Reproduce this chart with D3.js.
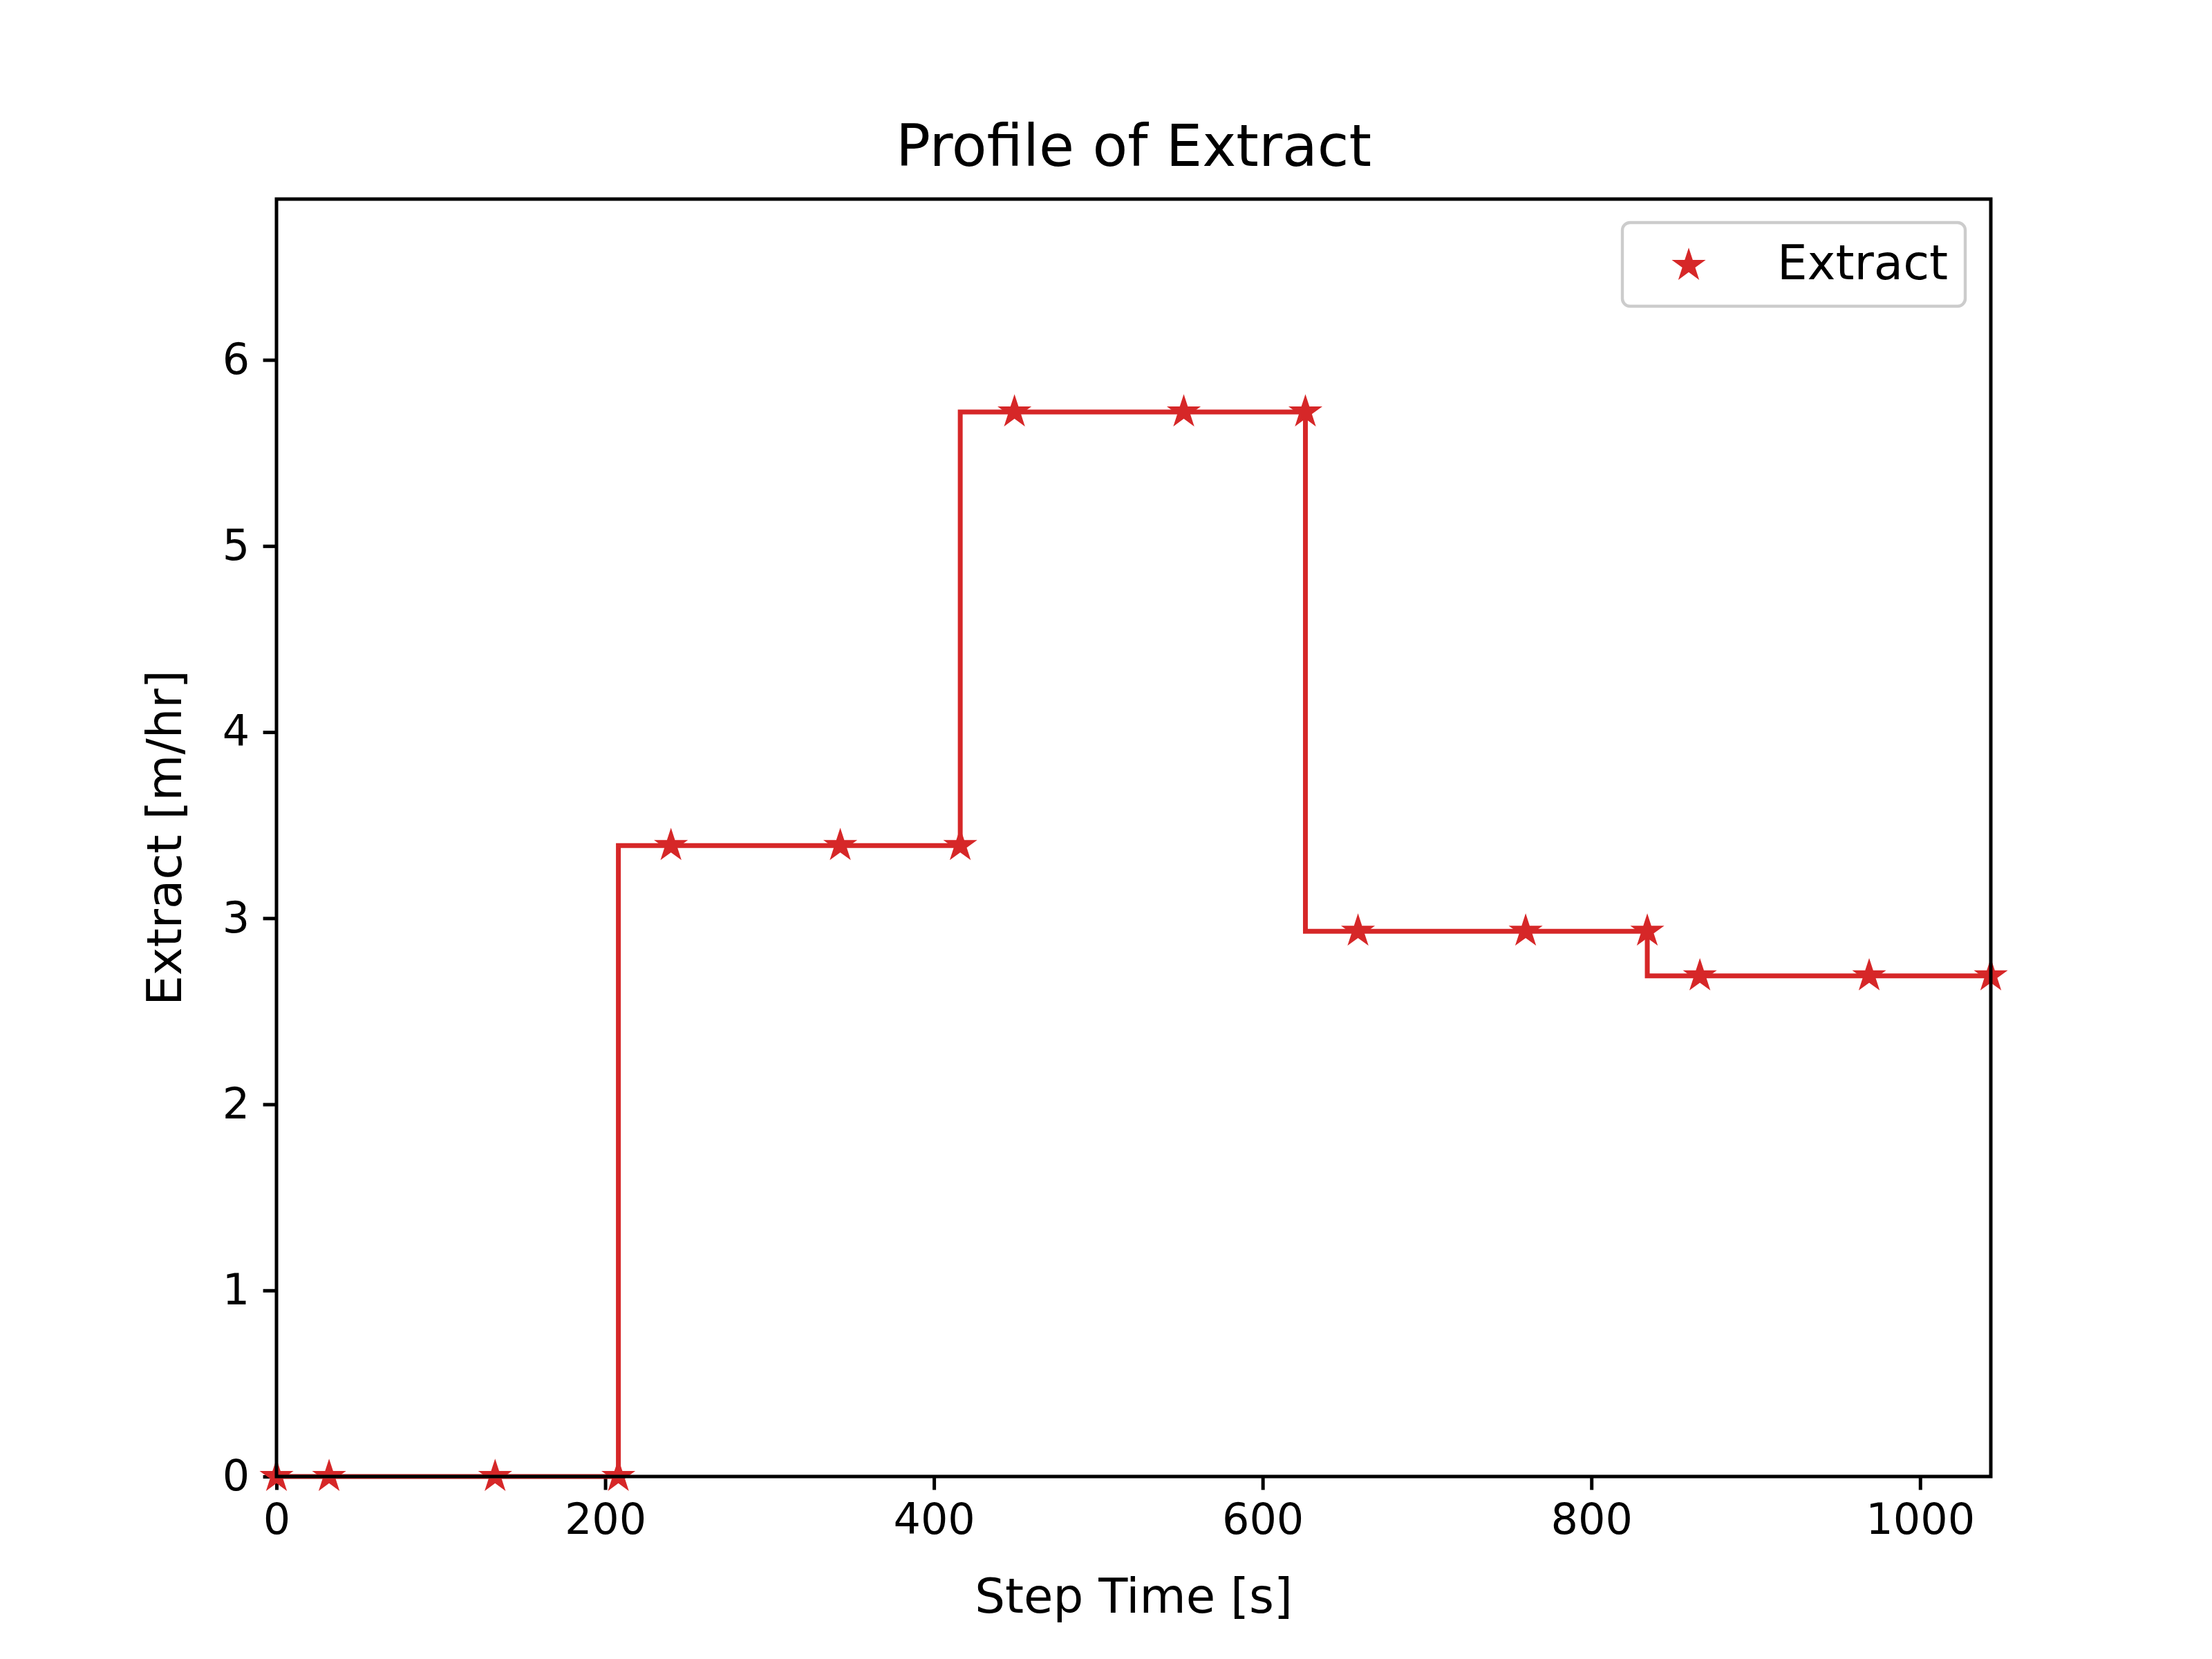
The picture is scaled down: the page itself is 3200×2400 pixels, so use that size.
<!DOCTYPE html>
<html>
<head>
<meta charset="utf-8">
<script src="https://cdn.jsdelivr.net/npm/d3@7"></script>
<style>
  body { margin: 0; background: #fff; }
  text { font-family: "DejaVu Sans", sans-serif; }
</style>
</head>
<body>
<svg width="3200" height="2400"></svg>
<script>
// data
const stepTimes = [0, 32, 133, 208, 240, 343, 416, 449, 552, 626, 658, 760, 834, 866, 969, 1043];
const extract   = [0, 0, 0, 0, 3.39, 3.39, 3.39, 5.72, 5.72, 5.72, 2.93, 2.93, 2.93, 2.69, 2.69, 2.69];
const xTicks = [0, 200, 400, 600, 800, 1000];
const yTicks = [0, 1, 2, 3, 4, 5, 6];

const svg = d3.select('svg');
const red = "#d62728";
const margin = {top: 288, right: 320, bottom: 264, left: 400};
const width = 3200 - margin.left - margin.right;
const height = 2400 - margin.top - margin.bottom;

const points = stepTimes.map((t, i) => ({t: t, v: extract[i]}));

const x = d3.scaleLinear().domain([0, 1043]).range([0, width]);
const y = d3.scaleLinear().domain([0, 5.72 * 1.2]).range([height, 0]);

svg.append('rect').attr('width', 3200).attr('height', 2400).attr('fill', '#fff');

const g = svg.append('g').attr('transform', `translate(${margin.left},${margin.top})`);

// axes
const xAxis = g.append('g').attr('transform', `translate(0,${height})`)
  .call(d3.axisBottom(x).tickValues(xTicks).tickSize(19.4).tickPadding(19.4).tickFormat(d3.format('d')));
const yAxis = g.append('g')
  .call(d3.axisLeft(y).tickValues(yTicks).tickSize(19.4).tickPadding(19.4).tickFormat(d3.format('d')));
[xAxis, yAxis].forEach(a => {
  a.select('.domain').remove();
  a.selectAll('line').attr('stroke', '#000').attr('stroke-width', 5);
  a.selectAll('text').attr('font-size', 62).attr('fill', '#000')
    .style('font-family', '"DejaVu Sans", sans-serif');
});

// step line: jumps at the last marker of each level
const line = d3.line().x(d => x(d.t)).y(d => y(d.v)).curve(d3.curveStepBefore);
g.append('path').datum(points)
  .attr('d', line).attr('fill', 'none')
  .attr('stroke', red).attr('stroke-width', 7);

// star markers
const star = d3.symbol().type(d3.symbolStar).size(750);
g.selectAll('.pt').data(points).enter().append('path')
  .attr('class', 'pt')
  .attr('d', star)
  .attr('transform', d => `translate(${x(d.t)},${y(d.v)})`)
  .attr('fill', red);

// frame
g.append('rect').attr('width', width).attr('height', height)
  .attr('fill', 'none').attr('stroke', '#000').attr('stroke-width', 5);

// titles
svg.append('text').attr('x', margin.left + width / 2).attr('y', 240)
  .attr('text-anchor', 'middle').attr('font-size', 83).text('Profile of Extract');
svg.append('text').attr('x', margin.left + width / 2).attr('y', 2333)
  .attr('text-anchor', 'middle').attr('font-size', 69).text('Step Time [s]');
svg.append('text').attr('transform', 'translate(262,1212) rotate(-90)')
  .attr('text-anchor', 'middle').attr('font-size', 69).text('Extract [m/hr]');

// legend
const lg = svg.append('g');
lg.append('rect').attr('x', 2347).attr('y', 322).attr('width', 496).attr('height', 121)
  .attr('rx', 11).attr('fill', '#fff').attr('stroke', '#ccc').attr('stroke-width', 4.4);
lg.append('path').attr('d', star).attr('transform', 'translate(2443,384)').attr('fill', red);
lg.append('text').attr('x', 2571).attr('y', 380).attr('dy', '0.35em')
  .attr('font-size', 69).text('Extract');
</script>
</body>
</html>
